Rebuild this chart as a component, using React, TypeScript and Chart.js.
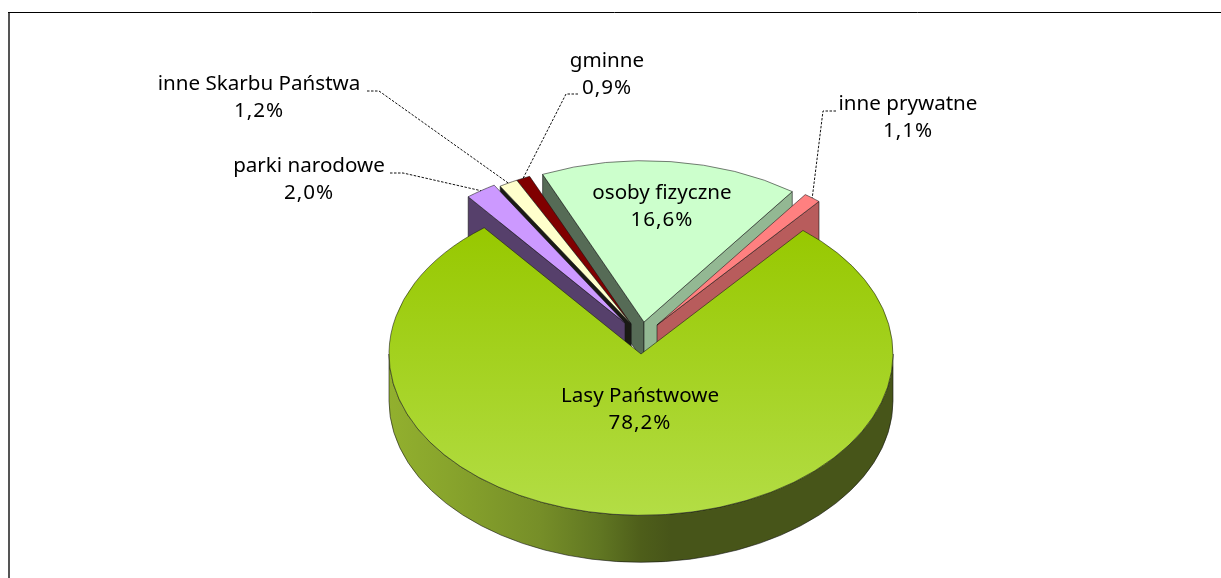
import React, { useEffect, useRef } from "react";
import { Chart, registerables } from "chart.js";

Chart.register(...registerables);

const categories = ["Lasy Państwowe", "parki narodowe", "inne Skarbu Państwa", "gminne", "osoby fizyczne", "inne prywatne"];
const shares = [78.2, 2.0, 1.2, 0.9, 16.6, 1.1];
const colors = ["#9ccb10", "#cc99ff", "#ffffcc", "#800000", "#ccffcc", "#ff8080"];

const CANVAS_W = 1221;
const CANVAS_H = 578;
const RADIUS = 252;
const SQUASH = 0.64;
const CENTER_X = 641;
const CENTER_Y = 354;
const ROTATION = 40;
const FONT = '20.6px "Noto Sans"';

// shift of each slice's apex from the pie centre, in pixels
const explode = [
  [0, 0],
  [-16, -31],
  [-10, -30],
  [-10, -30],
  [3, -32],
  [16, -29],
];
const depths = [47, 40, 40, 40, 40, 40];
const paintOrder = [4, 5, 3, 2, 1, 0];
const sideShade = [0.42, 0.42, 0.1, 0.1, 0.42, 0.42];

// curved wall colours, left to right
const wallStops: [number, string][] = [
  [0, "rgb(146,176,46)"],
  [0.12, "rgb(136,164,44)"],
  [0.3, "rgb(118,142,40)"],
  [0.42, "rgb(96,118,34)"],
  [0.5, "rgb(78,94,26)"],
  [0.56, "rgb(71,85,25)"],
  [1, "rgb(71,85,25)"],
];

// label centre and baseline positions, with leader-line elbows
const labelLayout = [
  { x: 640, y: 402, leader: null },
  { x: 309, y: 172, leader: [[390, 173], [403, 173]] },
  { x: 259, y: 90, leader: [[367, 91], [379, 91]] },
  { x: 607, y: 67, leader: [[578, 94], [566, 94]] },
  { x: 662, y: 199, leader: null },
  { x: 908, y: 110, leader: [[836, 111], [823, 111]] },
];
const LINE_H = 27;

function shade(hex: string, f: number) {
  const n = parseInt(hex.slice(1), 16);
  const r = Math.round(((n >> 16) & 255) * f);
  const g = Math.round(((n >> 8) & 255) * f);
  const b = Math.round((n & 255) * f);
  return `rgb(${r},${g},${b})`;
}

const EDGE = "rgba(20,20,20,0.85)";

const pie3d = {
  id: "pie3d",
  beforeDatasetDraw(chart: any) {
    const ctx: CanvasRenderingContext2D = chart.ctx;
    const arcs = chart.getDatasetMeta(0).data;
    ctx.save();
    ctx.fillStyle = "#ffffff";
    ctx.fillRect(0, 0, CANVAS_W, CANVAS_H);

    // frame
    ctx.strokeStyle = "#555";
    ctx.lineWidth = 2;
    ctx.beginPath();
    ctx.moveTo(9, CANVAS_H);
    ctx.lineTo(9, 12);
    ctx.stroke();
    ctx.strokeStyle = "#000";
    ctx.lineWidth = 1;
    ctx.beginPath();
    ctx.moveTo(8, 12.5);
    ctx.lineTo(CANVAS_W, 12.5);
    ctx.stroke();

    for (const i of paintOrder) {
      const arc = arcs[i];
      const [dx, dy] = explode[i];
      const depth = depths[i];
      const R = arc.outerRadius;
      const cx = arc.x + dx;
      const cy = arc.y + dy;
      const a0 = arc.startAngle;
      const a1 = arc.endAngle;
      const px = (t: number) => cx + R * Math.cos(t);
      const py = (t: number) => cy + R * SQUASH * Math.sin(t);

      const radialWall = (t: number, fill: string) => {
        ctx.beginPath();
        ctx.moveTo(cx, cy);
        ctx.lineTo(px(t), py(t));
        ctx.lineTo(px(t), py(t) + depth);
        ctx.lineTo(cx, cy + depth);
        ctx.closePath();
        ctx.fillStyle = fill;
        ctx.fill();
        ctx.strokeStyle = EDGE;
        ctx.lineWidth = 0.7;
        ctx.stroke();
      };
      if (Math.cos(a0) < 0) radialWall(a0, shade(colors[i], sideShade[i]));
      if (Math.cos(a1) > 0) radialWall(a1, shade(colors[i], 0.72));

      // curved outer wall, only the part that faces the viewer
      const from = Math.max(a0, 0);
      const to = Math.min(a1, Math.PI);
      if (to > from) {
        const g = ctx.createLinearGradient(cx - R, 0, cx + R, 0);
        wallStops.forEach(([p, c]) => g.addColorStop(p, c));
        ctx.beginPath();
        ctx.ellipse(cx, cy, R, R * SQUASH, 0, from, to, false);
        ctx.ellipse(cx, cy + depth, R, R * SQUASH, 0, to, from, true);
        ctx.closePath();
        ctx.fillStyle = g;
        ctx.fill();
        ctx.strokeStyle = EDGE;
        ctx.lineWidth = 0.7;
        ctx.stroke();
      }

      // top face: the library's own arc element, tilted
      ctx.save();
      ctx.translate(cx, cy);
      ctx.scale(1, SQUASH);
      ctx.translate(-arc.x, -arc.y);
      arc.draw(ctx);
      ctx.restore();
    }

    // leader lines
    ctx.strokeStyle = "#111";
    ctx.lineWidth = 1;
    ctx.setLineDash([2.5, 1.5]);
    labelLayout.forEach((l, i) => {
      if (!l.leader) return;
      const arc = arcs[i];
      const mid = (arc.startAngle + arc.endAngle) / 2;
      const ex = arc.x + explode[i][0] + arc.outerRadius * Math.cos(mid);
      const ey = arc.y + explode[i][1] + arc.outerRadius * SQUASH * Math.sin(mid);
      ctx.beginPath();
      ctx.moveTo(l.leader[0][0], l.leader[0][1]);
      ctx.lineTo(l.leader[1][0], l.leader[1][1]);
      ctx.lineTo(ex, ey);
      ctx.stroke();
    });
    ctx.setLineDash([]);

    // labels
    ctx.fillStyle = "#000";
    ctx.font = FONT;
    ctx.textAlign = "center";
    ctx.textBaseline = "alphabetic";
    labelLayout.forEach((l, i) => {
      (ctx as any).letterSpacing = "0px";
      ctx.fillText(categories[i], l.x, l.y);
      (ctx as any).letterSpacing = "1px";
      ctx.fillText(shares[i].toFixed(1).replace(".", ",") + "%", l.x, l.y + LINE_H);
    });
    (ctx as any).letterSpacing = "0px";
    ctx.restore();
    return false;
  },
};

export default function App() {
  const ref = useRef<HTMLCanvasElement>(null);
  useEffect(() => {
    const canvas = ref.current!;
    const ctx = canvas.getContext("2d")!;
    const topFill = ctx.createLinearGradient(0, CENTER_Y - RADIUS * 0.78, 0, CENTER_Y + RADIUS);
    topFill.addColorStop(0, "#97c800");
    topFill.addColorStop(1, "#b3dd45");
    const chart = new Chart(canvas, {
      type: "pie",
      data: {
        labels: categories,
        datasets: [
          {
            data: shares,
            backgroundColor: colors.map((c, i) => (i === 0 ? topFill : c)),
            borderColor: EDGE,
            borderWidth: 0.8,
          },
        ],
      },
      options: {
        responsive: false,
        animation: false,
        rotation: ROTATION,
        radius: RADIUS,
        layout: {
          padding: {
            left: 2 * CENTER_X - CANVAS_W > 0 ? 2 * CENTER_X - CANVAS_W : 0,
            top: 2 * CENTER_Y - CANVAS_H > 0 ? 2 * CENTER_Y - CANVAS_H : 0,
          },
        },
        plugins: { legend: { display: false }, tooltip: { enabled: false } },
      },
      plugins: [pie3d],
    } as any);
    return () => chart.destroy();
  }, []);
  return (
    <canvas
      ref={ref}
      width={CANVAS_W}
      height={CANVAS_H}
      style={{ position: "absolute", left: 0, top: 0, display: "block", filter: "blur(0.4px)" }}
    />
  );
}
